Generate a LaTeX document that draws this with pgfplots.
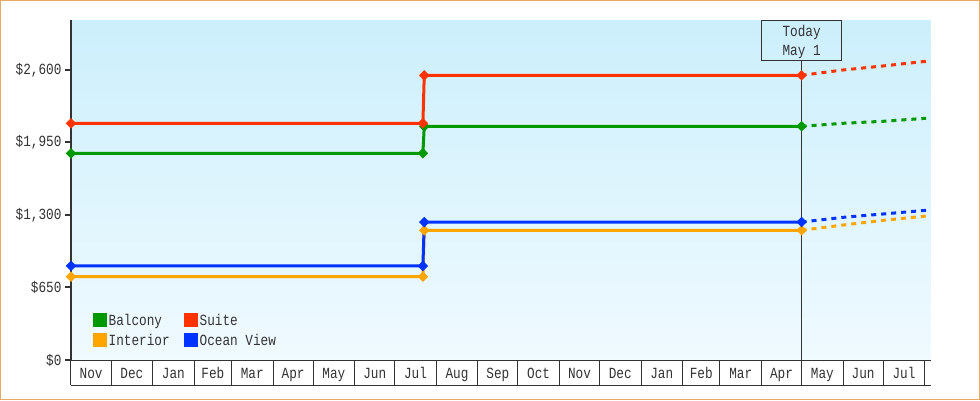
\documentclass[border=0pt]{standalone}
\usepackage{pgfplots}
\pgfplotsset{compat=1.18}
\usepackage{fontspec}
\setmainfont{Liberation Mono}[FakeStretch=0.82]

\definecolor{balcony}{RGB}{0,153,0}
\definecolor{suite}{RGB}{255,51,0}
\definecolor{interior}{RGB}{255,165,0}
\definecolor{ocean}{RGB}{0,51,255}
\definecolor{ink}{RGB}{51,51,51}
\definecolor{bgtop}{RGB}{204,239,252}
\definecolor{bgbot}{RGB}{240,250,255}
\definecolor{frame}{RGB}{232,170,100}

\newcommand\chartfont{\fontsize{15.5}{18.5}\selectfont}

\begin{document}
\begin{tikzpicture}
\fill[white] (-71pt,-40pt) rectangle (909pt,360pt);
\begin{axis}[
  at={(0pt,0pt)}, anchor=south west,
  scale only axis, width=859.7pt, height=340pt,
  xmin=0, xmax=642.5, ymin=0, ymax=3048,
  axis lines*=left,
  x axis line style={ink, line width=1pt},
  y axis line style={ink, line width=2pt},
  axis background/.style={top color=bgtop, bottom color=bgbot},
  clip=false,
  tick align=outside,
  % month boundaries (days from 1 Nov)
  xtick={0,30,61,92,120,151,181,212,242,273,304,334,365,395,426,457,485,516,546,577,607,638},
  xticklabels={},
  major tick length=25pt,
  x tick style={ink, line width=1pt},
  extra x ticks={15,45.5,76.5,106,135.5,166,196.5,227,257.5,288.5,319,349.5,380,410.5,441.5,471,500.5,531,561.5,592,622.5},
  extra x tick labels={Nov,Dec,Jan,Feb,Mar,Apr,May,Jun,Jul,Aug,Sep,Oct,Nov,Dec,Jan,Feb,Mar,Apr,May,Jun,Jul},
  extra x tick style={major tick length=0pt, xticklabel style={anchor=base, yshift=-18pt}},
  ytick=\empty,
  extra y ticks={0,650,1300,1950,2600},
  extra y tick labels={{\$0},{\$650},{\$1,300},{\$1,950},{\$2,600}},
  extra y tick style={major tick length=6pt, y tick style={ink, line width=2pt}},
  tick label style={font=\chartfont, text=ink},
  legend columns=2,
  legend cell align=left,
  legend image code/.code={\fill[#1] (0pt,-5pt) rectangle (11pt,6pt);},
  legend style={at={(0.0256,0.038)}, anchor=south west, draw=none, fill=none,
    inner sep=0pt, column sep=1.5pt, row sep=6pt,
    nodes={inner sep=0pt, font=\chartfont, text=ink}},
  every axis plot/.append style={line width=3pt},
  main/.style={mark=square*, mark size=3.2pt, mark options={solid, rotate=45, line width=1pt}},
  proj/.style={forget plot, dash pattern=on 5pt off 5pt},
]
\node[draw=ink, line width=1pt, anchor=north, minimum width=80pt, minimum height=40pt,
  inner sep=0pt] (today) at (axis cs:546,3048) {};
\node[align=center, font=\chartfont, text=ink, inner sep=0pt] at ([yshift=-1.5pt]today.center) {Today\\May 1};
\draw[ink, line width=1pt] (today.south) -- (axis cs:546,0);

\addplot[balcony, main] coordinates {(0,1853) (263,1853) (264,2095) (546,2095)};
\addlegendentry{\makebox[74pt][l]{Balcony}}
\addplot[suite, main] coordinates {(0,2122) (263,2122) (264,2552) (546,2552)};
\addlegendentry{Suite}
\addplot[interior, main] coordinates {(0,747) (263,747) (264,1163) (546,1163)};
\addlegendentry{\makebox[74pt][l]{Interior}}
\addplot[ocean, main] coordinates {(0,843) (263,843) (264,1237) (546,1237)};
\addlegendentry{Ocean View}

% projections after today
\addplot[balcony, proj] coordinates {(546,2095) (577,2122) (607,2140) (639,2167)};
\addplot[suite, proj] coordinates {(546,2552) (577,2600) (607,2636) (639,2678)};
\addplot[interior, proj] coordinates {(546,1163) (577,1210) (607,1252) (639,1291)};
\addplot[ocean, proj] coordinates {(546,1237) (577,1279) (607,1309) (639,1342)};
\end{axis}
\draw[ink, line width=1pt] (0pt,-25pt) -- (859.7pt,-25pt);
\draw[frame, line width=1pt] (-70.5pt,-39.5pt) rectangle (908.5pt,359.5pt);
\pgfresetboundingbox
\path[use as bounding box] (-71pt,-40pt) rectangle (909pt,360pt);
\end{tikzpicture}
\end{document}
